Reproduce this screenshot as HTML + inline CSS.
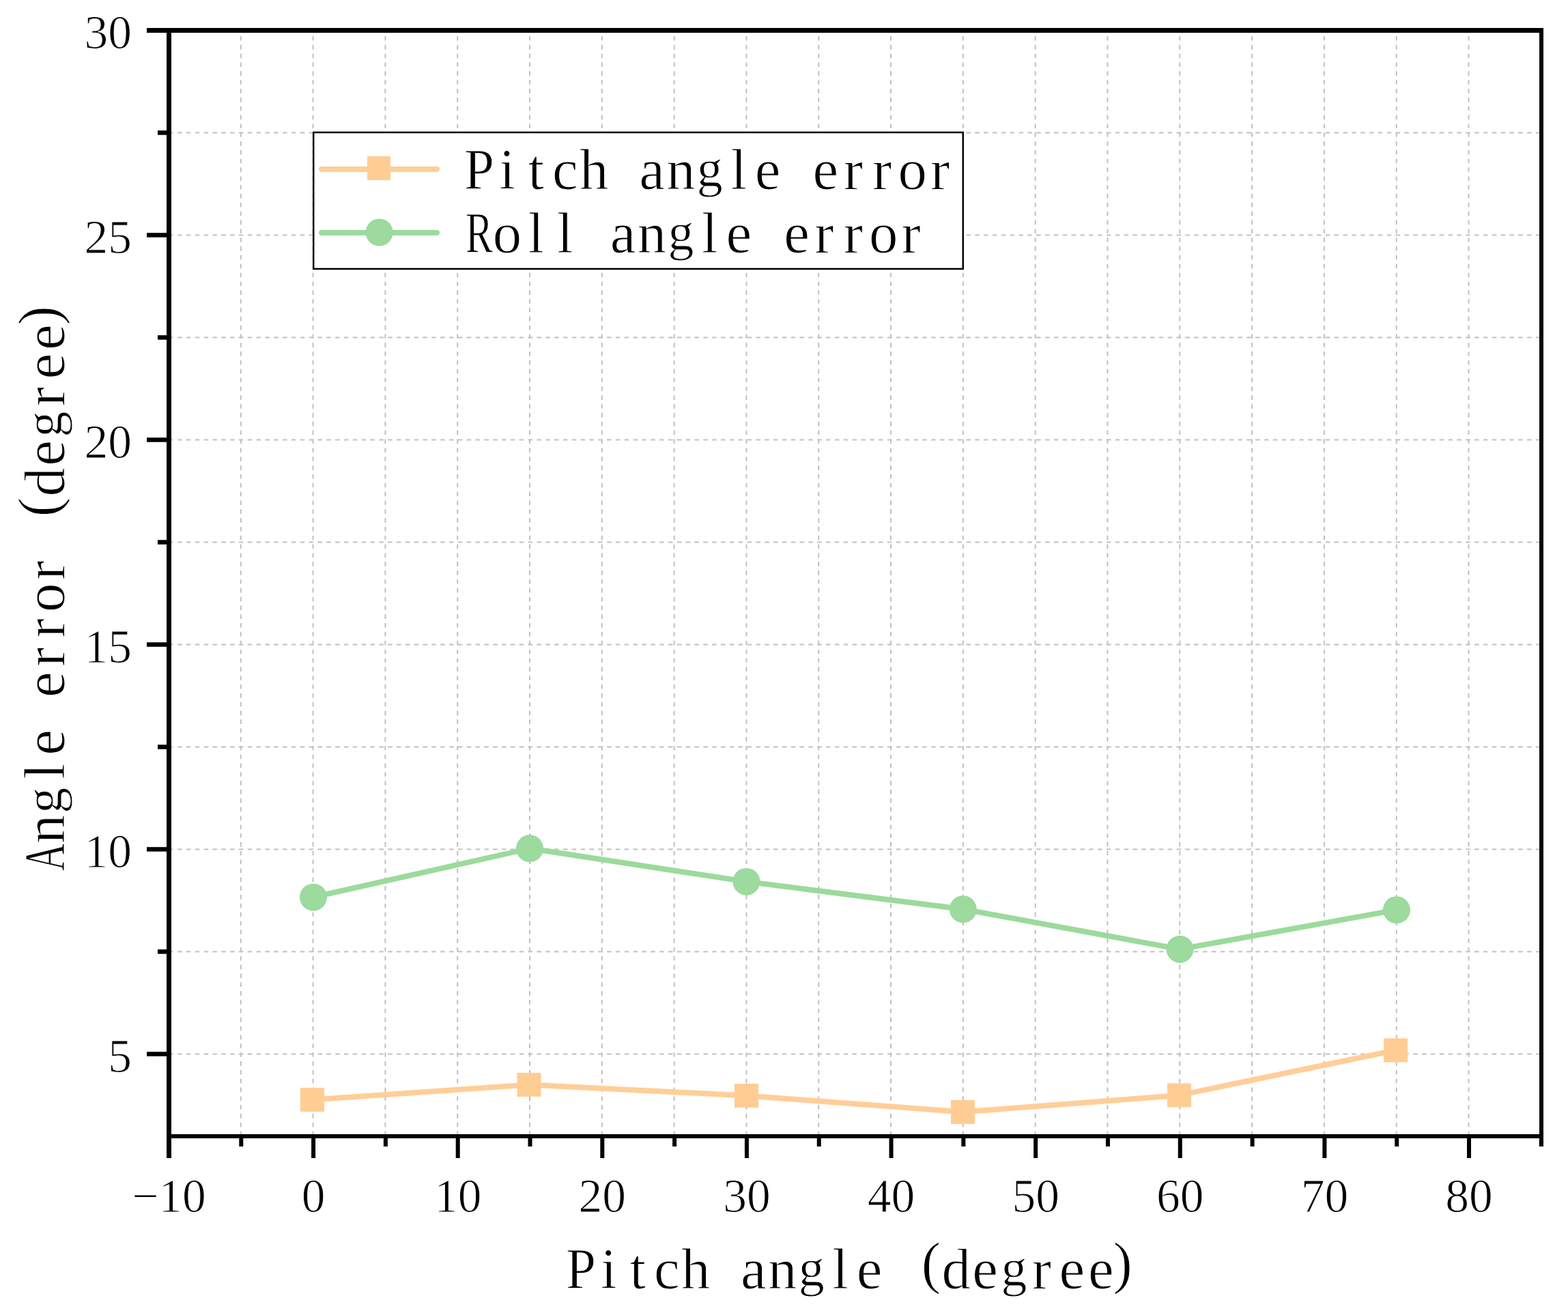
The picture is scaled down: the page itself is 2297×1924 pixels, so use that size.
<!DOCTYPE html>
<html><head><meta charset="utf-8"><title>Angle error vs pitch angle</title>
<style>html,body{margin:0;padding:0;background:#fff;overflow:hidden;}svg{display:block;}</style>
</head><body>
<svg width="2297" height="1924" viewBox="0 0 2297 1924">
<rect x="0" y="0" width="2297" height="1924" fill="#fff"/>
<path d="M352.80 48V1662 M458.60 48V1662 M564.40 48V1662 M670.21 48V1662 M776.02 48V1662 M881.82 48V1662 M987.63 48V1662 M1093.43 48V1662 M1199.24 48V1662 M1305.04 48V1662 M1410.85 48V1662 M1516.65 48V1662 M1622.45 48V1662 M1728.26 48V1662 M1834.07 48V1662 M1939.87 48V1662 M2045.68 48V1662 M2151.48 48V1662" stroke="#c0c0c0" stroke-width="2" stroke-dasharray="6.6 6.238" stroke-dashoffset="7.838" fill="none"/>
<path d="M251 1544.50H2255 M251 1394.50H2255 M251 1244.50H2255 M251 1094.50H2255 M251 944.50H2255 M251 794.50H2255 M251 644.50H2255 M251 494.50H2255 M251 344.50H2255 M251 194.50H2255" stroke="#c0c0c0" stroke-width="2" stroke-dasharray="6.6 6.238" stroke-dashoffset="3.838" fill="none"/>
<polyline points="457.5,1611.5 775.0,1589.5 1093.5,1605.5 1410.5,1629.5 1727.5,1604.9 2044.5,1539.0" fill="none" stroke="#ffce98" stroke-width="8" stroke-linejoin="round"/>
<rect x="440.0" y="1594.0" width="35" height="35" fill="#ffcd93"/>
<rect x="757.5" y="1572.0" width="35" height="35" fill="#ffcd93"/>
<rect x="1076.0" y="1588.0" width="35" height="35" fill="#ffcd93"/>
<rect x="1393.0" y="1612.0" width="35" height="35" fill="#ffcd93"/>
<rect x="1710.0" y="1587.4" width="35" height="35" fill="#ffcd93"/>
<rect x="2027.0" y="1521.5" width="35" height="35" fill="#ffcd93"/>
<polyline points="459.0,1314.7 776.0,1243.3 1093.4,1291.9 1410.8,1332.3 1728.5,1390.9 2045.9,1333.3" fill="none" stroke="#9bda9d" stroke-width="8" stroke-linejoin="round"/>
<circle cx="459.0" cy="1314.7" r="20" fill="#9cda9e"/>
<circle cx="776.0" cy="1243.3" r="20" fill="#9cda9e"/>
<circle cx="1093.4" cy="1291.9" r="20" fill="#9cda9e"/>
<circle cx="1410.8" cy="1332.3" r="20" fill="#9cda9e"/>
<circle cx="1728.5" cy="1390.9" r="20" fill="#9cda9e"/>
<circle cx="2045.9" cy="1333.3" r="20" fill="#9cda9e"/>
<rect x="459.25" y="194" width="951.5" height="200" fill="#fff" stroke="#000" stroke-width="2.5"/>
<line x1="471" y1="248" x2="640" y2="248" stroke="#ffce98" stroke-width="8" stroke-linecap="round"/>
<rect x="538" y="229" width="34" height="35" fill="#ffcd93"/>
<line x1="471" y1="341" x2="640" y2="341" stroke="#9bda9d" stroke-width="8" stroke-linecap="round"/>
<circle cx="555.7" cy="340.5" r="20" fill="#9cda9e"/>
<g fill="#000">
<rect x="215" y="41" width="2046" height="7"/>
<rect x="244" y="41" width="7" height="1656"/>
<rect x="244" y="1662" width="2017" height="6"/>
<rect x="2255" y="41" width="6" height="1639"/>
<rect x="215" y="1541.25" width="29" height="6.5"/>
<rect x="231" y="1391.25" width="13" height="6.5"/>
<rect x="215" y="1241.25" width="29" height="6.5"/>
<rect x="231" y="1091.25" width="13" height="6.5"/>
<rect x="215" y="941.25" width="29" height="6.5"/>
<rect x="231" y="791.25" width="13" height="6.5"/>
<rect x="215" y="641.25" width="29" height="6.5"/>
<rect x="231" y="491.25" width="13" height="6.5"/>
<rect x="215" y="341.25" width="29" height="6.5"/>
<rect x="231" y="191.25" width="13" height="6.5"/>
<rect x="350.30" y="1668" width="6" height="12"/>
<rect x="456.10" y="1668" width="6" height="29"/>
<rect x="561.90" y="1668" width="6" height="12"/>
<rect x="667.71" y="1668" width="6" height="29"/>
<rect x="773.52" y="1668" width="6" height="12"/>
<rect x="879.32" y="1668" width="6" height="29"/>
<rect x="985.13" y="1668" width="6" height="12"/>
<rect x="1090.93" y="1668" width="6" height="29"/>
<rect x="1196.74" y="1668" width="6" height="12"/>
<rect x="1302.54" y="1668" width="6" height="29"/>
<rect x="1408.35" y="1668" width="6" height="12"/>
<rect x="1514.15" y="1668" width="6" height="29"/>
<rect x="1619.95" y="1668" width="6" height="12"/>
<rect x="1725.76" y="1668" width="6" height="29"/>
<rect x="1831.57" y="1668" width="6" height="12"/>
<rect x="1937.37" y="1668" width="6" height="29"/>
<rect x="2043.18" y="1668" width="6" height="12"/>
<rect x="2148.98" y="1668" width="6" height="29"/>
<rect x="2254.79" y="1668" width="6" height="12"/>
</g>
<g font-family="Liberation Serif, serif" font-size="69.5" fill="#000" stroke="#fff" stroke-width="1.0">
<text x="193.1" y="1570.6" text-anchor="end">5</text>
<text x="193.1" y="1270.6" text-anchor="end">10</text>
<text x="193.1" y="970.6" text-anchor="end">15</text>
<text x="193.1" y="670.6" text-anchor="end">20</text>
<text x="193.1" y="370.6" text-anchor="end">25</text>
<text x="193.1" y="70.6" text-anchor="end">30</text>
<text x="247.5" y="1775.6" text-anchor="middle">−10</text>
<text x="459.1" y="1775.6" text-anchor="middle">0</text>
<text x="670.7" y="1775.6" text-anchor="middle">10</text>
<text x="882.3" y="1775.6" text-anchor="middle">20</text>
<text x="1093.9" y="1775.6" text-anchor="middle">30</text>
<text x="1305.5" y="1775.6" text-anchor="middle">40</text>
<text x="1517.2" y="1775.6" text-anchor="middle">50</text>
<text x="1728.8" y="1775.6" text-anchor="middle">60</text>
<text x="1940.4" y="1775.6" text-anchor="middle">70</text>
<text x="2152.0" y="1775.6" text-anchor="middle">80</text>
</g>
<g font-family="Liberation Serif, serif" font-size="84.8" fill="#000" stroke="#fff" stroke-width="1.0">
<text y="276.8" text-anchor="middle" aria-label="Pitch angle error"><tspan x="702.1" y="276.8" textLength="44" lengthAdjust="spacingAndGlyphs">P</tspan><tspan x="743.0 785.4 827.8 870.2 912.6 955.0 997.4" y="276.8 276.8 276.8 276.8 276.8 276.8 276.8">itch an</tspan><tspan x="1039.8" y="273.1" font-size="76">g</tspan><tspan x="1082.2 1124.6 1167.0 1209.4 1249.8 1292.2 1336.6 1377.0" y="276.8 276.8 276.8 276.8 276.8 276.8 276.8 276.8">le error</tspan></text>
<text y="369.9" text-anchor="middle" aria-label="Roll angle error"><tspan x="702.1" y="369.9" textLength="40" lengthAdjust="spacingAndGlyphs">R</tspan><tspan x="743.0 785.4 827.8 870.2 912.6 955.0" y="369.9 369.9 369.9 369.9 369.9 369.9">oll an</tspan><tspan x="997.4" y="366.2" font-size="76">g</tspan><tspan x="1039.8 1082.2 1124.6 1167.0 1207.4 1249.8 1294.2 1334.6" y="369.9 369.9 369.9 369.9 369.9 369.9 369.9 369.9">le error</tspan></text>
<text y="1888.1" text-anchor="middle" aria-label="Pitch angle (degree)"><tspan x="851.0" y="1888.1" textLength="44" lengthAdjust="spacingAndGlyphs">P</tspan><tspan x="891.9 934.3 976.7 1019.1 1061.5 1103.9 1146.3" y="1888.1 1888.1 1888.1 1888.1 1888.1 1888.1 1888.1">itch an</tspan><tspan x="1188.7" y="1884.4" font-size="76">g</tspan><tspan x="1231.1 1273.5 1315.9 1363.8 1400.7 1443.1" y="1888.1 1888.1 1888.1 1879.1 1888.1 1888.1">le (de</tspan><tspan x="1485.5" y="1884.4" font-size="76">g</tspan><tspan x="1525.9 1570.3 1612.7 1644.6" y="1888.1 1888.1 1888.1 1879.1">ree)</tspan></text>
<g transform="translate(94.1 1278.7) rotate(-90)"><text y="0.0" text-anchor="middle" aria-label="Angle error (degree)"><tspan x="22.7" y="0.0" textLength="40" lengthAdjust="spacingAndGlyphs">A</tspan><tspan x="63.6" y="0.0">n</tspan><tspan x="106.0" y="-3.7" font-size="76">g</tspan><tspan x="148.4 190.8 233.2 275.6 316.0 358.4 402.8 443.2 487.6 535.5 572.4 614.8" y="0.0 0.0 0.0 0.0 0.0 0.0 0.0 0.0 0.0 -9.0 0.0 0.0">le error (de</tspan><tspan x="657.2" y="-3.7" font-size="76">g</tspan><tspan x="697.6 742.0 784.4 816.3" y="0.0 0.0 0.0 -9.0">ree)</tspan></text></g>
</g>
</svg>
</body></html>
